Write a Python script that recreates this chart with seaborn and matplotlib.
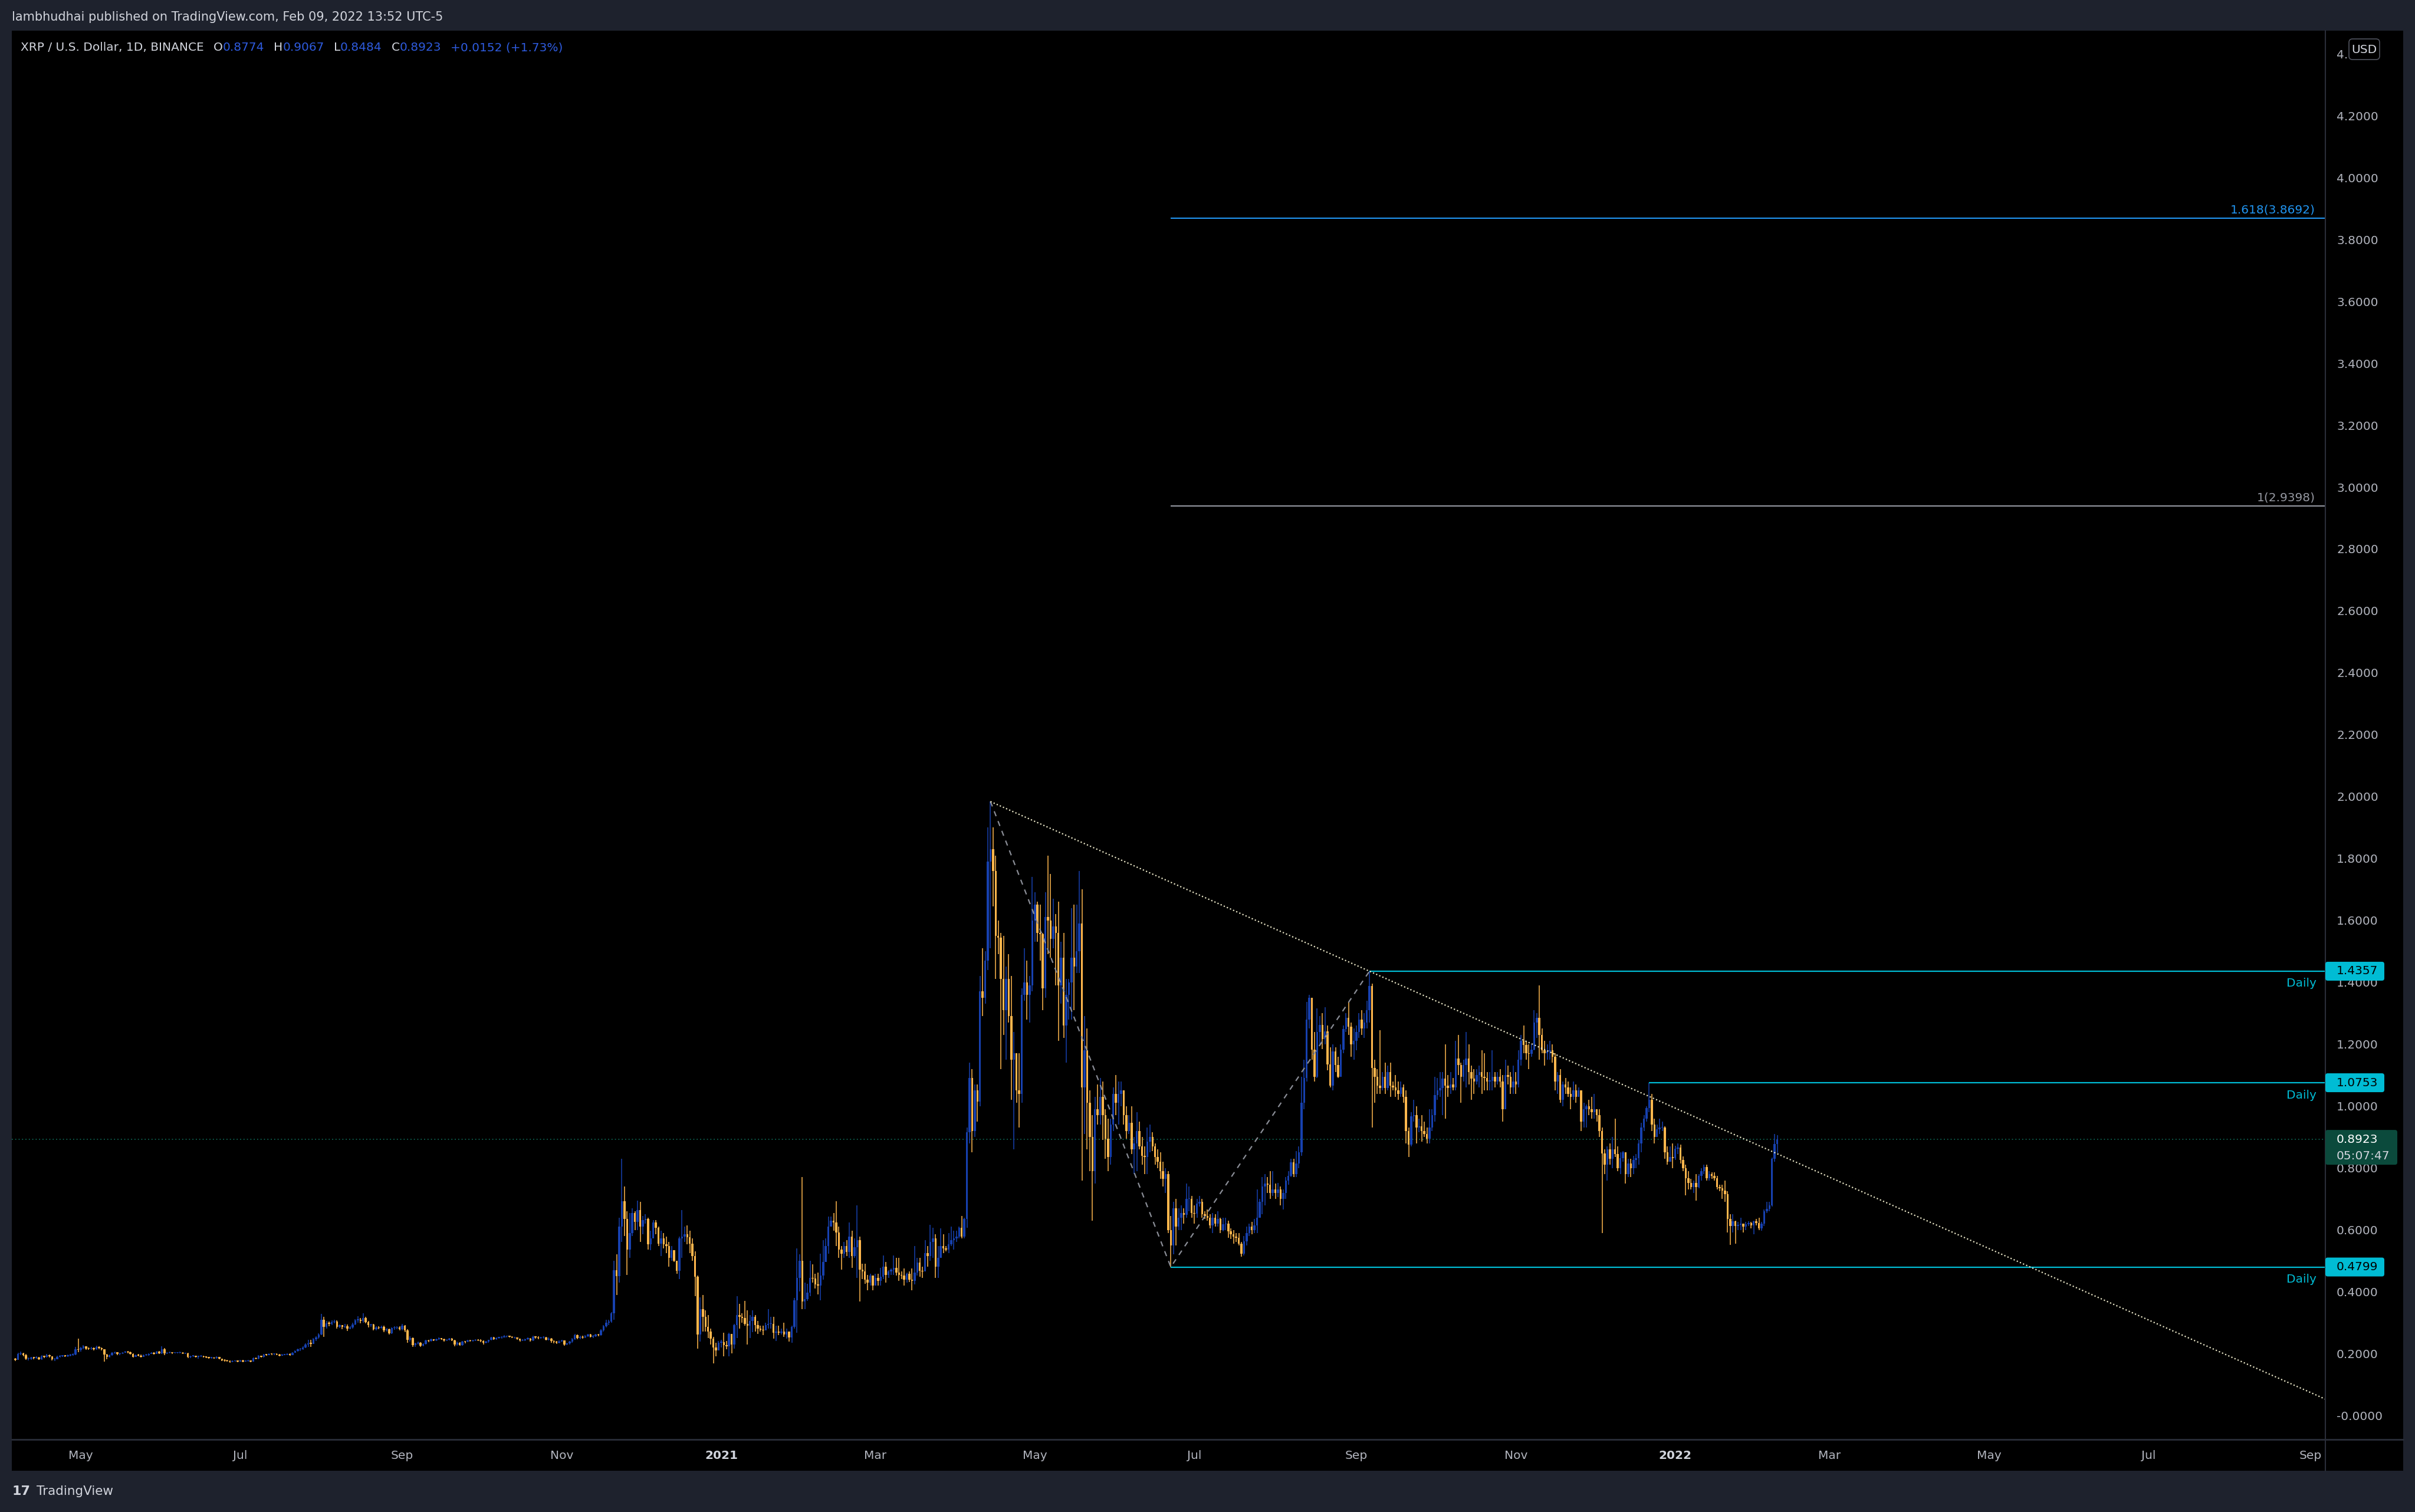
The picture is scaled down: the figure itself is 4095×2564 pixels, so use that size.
import numpy as np
import pandas as pd
import seaborn as sns
import matplotlib
matplotlib.use('Agg')
import matplotlib.pyplot as plt
import matplotlib.dates as mdates
import matplotlib.transforms as mtransforms
from matplotlib.patches import Rectangle, FancyBboxPatch

# ############### Data ###############
first_day = '2020-04-06'
first_open = 0.184

# daily closes, one row per month (Apr 2020 .. Feb 2022)
close = [
    0.180, 0.198, 0.200, 0.196, 0.183, 0.184, 0.187, 0.186, 0.188, 0.182, 0.192, 0.190, 0.196, 0.191, 0.181, 0.182, 0.190, 0.192, 0.193, 0.192, 0.194, 0.196, 0.197, 0.214, 0.212,
    0.218, 0.223, 0.217, 0.216, 0.216, 0.215, 0.222, 0.218, 0.214, 0.197, 0.190, 0.195, 0.203, 0.204, 0.198, 0.201, 0.203, 0.206, 0.204, 0.199, 0.190, 0.195, 0.194, 0.190, 0.195, 0.195, 0.199, 0.202, 0.199, 0.206, 0.201,
    0.215, 0.201, 0.203, 0.203, 0.202, 0.203, 0.203, 0.203, 0.201, 0.201, 0.189, 0.192, 0.192, 0.190, 0.191, 0.192, 0.189, 0.188, 0.186, 0.187, 0.185, 0.189, 0.183, 0.178, 0.177, 0.176, 0.174, 0.176, 0.176, 0.175,
    0.178, 0.175, 0.176, 0.177, 0.175, 0.186, 0.183, 0.193, 0.190, 0.197, 0.196, 0.199, 0.198, 0.198, 0.197, 0.194, 0.196, 0.197, 0.199, 0.196, 0.203, 0.208, 0.214, 0.214, 0.219, 0.229, 0.234, 0.232, 0.247, 0.252, 0.262,
    0.309, 0.287, 0.298, 0.297, 0.302, 0.304, 0.287, 0.292, 0.286, 0.289, 0.280, 0.285, 0.295, 0.308, 0.310, 0.305, 0.315, 0.302, 0.292, 0.294, 0.279, 0.285, 0.283, 0.287, 0.275, 0.278, 0.266, 0.282, 0.283, 0.285, 0.278,
    0.290, 0.276, 0.244, 0.251, 0.228, 0.233, 0.235, 0.226, 0.232, 0.242, 0.241, 0.246, 0.243, 0.247, 0.250, 0.247, 0.242, 0.244, 0.249, 0.243, 0.229, 0.236, 0.228, 0.239, 0.238, 0.242, 0.241, 0.243, 0.245, 0.243,
    0.241, 0.236, 0.238, 0.244, 0.253, 0.247, 0.251, 0.252, 0.253, 0.256, 0.256, 0.255, 0.252, 0.252, 0.248, 0.243, 0.243, 0.247, 0.249, 0.242, 0.254, 0.253, 0.250, 0.252, 0.253, 0.245, 0.249, 0.240, 0.238, 0.236, 0.239,
    0.242, 0.230, 0.233, 0.239, 0.247, 0.260, 0.250, 0.255, 0.252, 0.257, 0.261, 0.255, 0.256, 0.262, 0.260, 0.275, 0.288, 0.300, 0.303, 0.330, 0.470, 0.450, 0.610, 0.693, 0.636, 0.537, 0.590, 0.655, 0.625, 0.664,
    0.610, 0.632, 0.636, 0.553, 0.572, 0.623, 0.607, 0.556, 0.572, 0.553, 0.547, 0.509, 0.534, 0.500, 0.468, 0.572, 0.579, 0.585, 0.576, 0.556, 0.515, 0.449, 0.261, 0.344, 0.318, 0.287, 0.271, 0.249, 0.220, 0.211, 0.236,
    0.237, 0.227, 0.223, 0.264, 0.230, 0.293, 0.325, 0.318, 0.315, 0.296, 0.290, 0.305, 0.318, 0.293, 0.280, 0.277, 0.275, 0.293, 0.296, 0.297, 0.268, 0.272, 0.268, 0.272, 0.261, 0.271, 0.252, 0.287, 0.373, 0.445, 0.500,
    0.369, 0.376, 0.398, 0.445, 0.442, 0.423, 0.420, 0.452, 0.496, 0.547, 0.610, 0.629, 0.623, 0.591, 0.537, 0.522, 0.547, 0.528, 0.579, 0.515, 0.544, 0.566, 0.471, 0.465, 0.439, 0.430, 0.452, 0.420,
    0.445, 0.436, 0.449, 0.480, 0.455, 0.465, 0.471, 0.477, 0.461, 0.455, 0.452, 0.439, 0.458, 0.439, 0.436, 0.461, 0.495, 0.468, 0.465, 0.525, 0.515, 0.560, 0.572, 0.480, 0.509, 0.547, 0.540, 0.537, 0.553, 0.566, 0.572,
    0.579, 0.607, 0.579, 0.636, 0.915, 1.090, 0.920, 1.050, 1.015, 1.370, 1.350, 1.470, 1.790, 1.830, 1.760, 1.550, 1.545, 1.410, 1.310, 1.410, 1.290, 1.150, 1.170, 1.050, 1.040, 1.360, 1.400, 1.360, 1.390, 1.600,
    1.650, 1.560, 1.555, 1.380, 1.610, 1.600, 1.540, 1.580, 1.560, 1.390, 1.480, 1.260, 1.360, 1.400, 1.480, 1.450, 1.500, 1.590, 1.060, 1.180, 1.010, 0.900, 0.790, 0.990, 0.970, 1.030, 0.970, 0.895, 0.835, 0.940, 1.040,
    1.010, 1.040, 1.050, 0.970, 0.920, 0.945, 0.860, 0.880, 0.920, 0.870, 0.840, 0.835, 0.885, 0.900, 0.870, 0.835, 0.820, 0.790, 0.765, 0.780, 0.600, 0.550, 0.670, 0.610, 0.640, 0.655, 0.648, 0.700, 0.700, 0.655,
    0.652, 0.684, 0.690, 0.650, 0.645, 0.640, 0.615, 0.640, 0.620, 0.635, 0.600, 0.618, 0.620, 0.595, 0.585, 0.578, 0.575, 0.555, 0.523, 0.562, 0.590, 0.610, 0.600, 0.615, 0.640, 0.690, 0.740, 0.750, 0.745, 0.720, 0.730,
    0.720, 0.730, 0.700, 0.720, 0.760, 0.775, 0.818, 0.780, 0.815, 0.850, 1.010, 1.090, 1.280, 1.350, 1.183, 1.095, 1.240, 1.263, 1.216, 1.241, 1.135, 1.066, 1.176, 1.132, 1.095, 1.183, 1.249, 1.285, 1.256, 1.200, 1.210,
    1.240, 1.280, 1.250, 1.270, 1.310, 1.387, 1.124, 1.095, 1.066, 1.059, 1.095, 1.059, 1.110, 1.066, 1.060, 1.051, 1.040, 1.060, 1.030, 0.920, 0.876, 0.966, 0.970, 0.930, 0.935, 0.920, 0.910, 0.895, 0.930, 0.970,
    1.036, 1.051, 1.059, 1.088, 1.066, 1.059, 1.070, 1.060, 1.154, 1.132, 1.095, 1.132, 1.154, 1.110, 1.088, 1.080, 1.100, 1.110, 1.095, 1.090, 1.080, 1.081, 1.095, 1.080, 1.095, 1.080, 0.990, 1.100, 1.095, 1.060, 1.080,
    1.070, 1.150, 1.210, 1.197, 1.170, 1.168, 1.183, 1.270, 1.285, 1.230, 1.180, 1.170, 1.176, 1.180, 1.160, 1.080, 1.100, 1.020, 1.070, 1.060, 1.040, 1.030, 1.050, 1.030, 1.050, 0.950, 0.990, 1.000, 0.990, 0.980,
    0.990, 0.970, 0.920, 0.847, 0.810, 0.860, 0.830, 0.860, 0.845, 0.800, 0.832, 0.850, 0.780, 0.815, 0.800, 0.825, 0.832, 0.880, 0.930, 0.960, 0.993, 1.020, 0.940, 0.900, 0.925, 0.930, 0.930, 0.851, 0.820, 0.835, 0.832,
    0.862, 0.866, 0.825, 0.800, 0.767, 0.752, 0.738, 0.752, 0.738, 0.774, 0.790, 0.803, 0.767, 0.781, 0.774, 0.767, 0.738, 0.735, 0.726, 0.716, 0.635, 0.613, 0.627, 0.613, 0.617, 0.620, 0.610, 0.618, 0.621, 0.615, 0.627,
    0.622, 0.605, 0.620, 0.660, 0.668, 0.679, 0.829, 0.8774, 0.8923,
]

high = [
    0.186, 0.202, 0.206, 0.203, 0.198, 0.188, 0.190, 0.190, 0.191, 0.190, 0.195, 0.194, 0.198, 0.197, 0.192, 0.185, 0.193, 0.195, 0.196, 0.195, 0.197, 0.199, 0.200, 0.222, 0.248,
    0.222, 0.227, 0.224, 0.220, 0.221, 0.219, 0.225, 0.224, 0.220, 0.215, 0.199, 0.197, 0.205, 0.207, 0.205, 0.203, 0.205, 0.209, 0.208, 0.206, 0.201, 0.197, 0.198, 0.197, 0.197, 0.198, 0.201, 0.204, 0.204, 0.208, 0.209,
    0.223, 0.218, 0.205, 0.206, 0.205, 0.205, 0.205, 0.207, 0.204, 0.203, 0.202, 0.194, 0.194, 0.193, 0.193, 0.195, 0.193, 0.190, 0.189, 0.189, 0.188, 0.191, 0.190, 0.184, 0.181, 0.179, 0.177, 0.178, 0.178, 0.178,
    0.180, 0.179, 0.178, 0.179, 0.178, 0.188, 0.187, 0.195, 0.194, 0.199, 0.199, 0.201, 0.201, 0.201, 0.200, 0.198, 0.198, 0.199, 0.201, 0.200, 0.205, 0.211, 0.217, 0.218, 0.223, 0.233, 0.244, 0.245, 0.250, 0.256, 0.265,
    0.328, 0.318, 0.305, 0.303, 0.308, 0.310, 0.307, 0.295, 0.293, 0.296, 0.295, 0.288, 0.299, 0.312, 0.320, 0.315, 0.330, 0.318, 0.305, 0.297, 0.296, 0.289, 0.289, 0.290, 0.290, 0.282, 0.281, 0.285, 0.288, 0.289, 0.288,
    0.297, 0.293, 0.279, 0.256, 0.252, 0.236, 0.238, 0.237, 0.234, 0.245, 0.245, 0.248, 0.247, 0.249, 0.253, 0.251, 0.248, 0.246, 0.251, 0.250, 0.245, 0.238, 0.237, 0.240, 0.241, 0.244, 0.244, 0.245, 0.247, 0.246,
    0.246, 0.243, 0.240, 0.245, 0.255, 0.254, 0.253, 0.254, 0.256, 0.259, 0.258, 0.258, 0.256, 0.254, 0.253, 0.249, 0.246, 0.249, 0.252, 0.251, 0.258, 0.257, 0.256, 0.254, 0.256, 0.254, 0.252, 0.251, 0.242, 0.240, 0.242,
    0.245, 0.243, 0.236, 0.241, 0.250, 0.263, 0.262, 0.258, 0.258, 0.260, 0.264, 0.263, 0.259, 0.264, 0.263, 0.279, 0.292, 0.310, 0.310, 0.335, 0.500, 0.520, 0.640, 0.830, 0.740, 0.660, 0.655, 0.670, 0.660, 0.695,
    0.690, 0.645, 0.650, 0.640, 0.598, 0.632, 0.632, 0.610, 0.598, 0.590, 0.578, 0.560, 0.547, 0.520, 0.500, 0.579, 0.664, 0.610, 0.615, 0.598, 0.572, 0.530, 0.452, 0.382, 0.390, 0.340, 0.325, 0.280, 0.255, 0.236, 0.240,
    0.245, 0.268, 0.240, 0.268, 0.264, 0.296, 0.385, 0.360, 0.330, 0.370, 0.340, 0.325, 0.340, 0.325, 0.306, 0.290, 0.290, 0.300, 0.344, 0.318, 0.318, 0.290, 0.290, 0.280, 0.300, 0.280, 0.272, 0.290, 0.380, 0.540, 0.520,
    0.770, 0.430, 0.425, 0.500, 0.488, 0.458, 0.461, 0.522, 0.566, 0.572, 0.642, 0.642, 0.655, 0.693, 0.610, 0.547, 0.560, 0.566, 0.623, 0.598, 0.572, 0.680, 0.579, 0.490, 0.490, 0.455, 0.458, 0.452,
    0.458, 0.458, 0.477, 0.518, 0.496, 0.470, 0.475, 0.518, 0.509, 0.509, 0.465, 0.475, 0.462, 0.465, 0.475, 0.547, 0.509, 0.509, 0.480, 0.566, 0.547, 0.617, 0.607, 0.585, 0.547, 0.604, 0.585, 0.547, 0.590, 0.610, 0.598,
    0.598, 0.610, 0.645, 0.640, 0.930, 1.140, 1.120, 1.070, 1.070, 1.420, 1.510, 1.500, 1.900, 1.984, 1.900, 1.810, 1.600, 1.560, 1.550, 1.450, 1.490, 1.420, 1.240, 1.170, 1.170, 1.380, 1.510, 1.470, 1.420, 1.740,
    1.690, 1.660, 1.650, 1.560, 1.690, 1.810, 1.750, 1.670, 1.620, 1.660, 1.530, 1.560, 1.410, 1.410, 1.640, 1.650, 1.650, 1.760, 1.700, 1.290, 1.250, 1.050, 0.970, 1.030, 1.070, 1.090, 1.080, 0.990, 0.960, 0.960, 1.060,
    1.100, 1.080, 1.080, 1.050, 1.000, 0.970, 1.000, 0.900, 0.980, 0.950, 0.900, 0.870, 0.930, 0.940, 0.915, 0.880, 0.860, 0.850, 0.820, 0.800, 0.790, 0.645, 0.690, 0.700, 0.670, 0.680, 0.670, 0.750, 0.740, 0.710,
    0.680, 0.700, 0.710, 0.700, 0.660, 0.665, 0.650, 0.655, 0.650, 0.660, 0.640, 0.640, 0.640, 0.630, 0.605, 0.600, 0.590, 0.590, 0.560, 0.580, 0.610, 0.620, 0.625, 0.635, 0.730, 0.700, 0.770, 0.780, 0.770, 0.790, 0.790,
    0.750, 0.752, 0.740, 0.730, 0.770, 0.790, 0.830, 0.830, 0.855, 0.870, 1.095, 1.150, 1.336, 1.360, 1.336, 1.240, 1.315, 1.290, 1.300, 1.320, 1.260, 1.190, 1.200, 1.190, 1.160, 1.200, 1.260, 1.300, 1.336, 1.270, 1.250,
    1.260, 1.300, 1.310, 1.300, 1.340, 1.4357, 1.395, 1.150, 1.120, 1.245, 1.110, 1.140, 1.130, 1.140, 1.080, 1.100, 1.080, 1.080, 1.070, 1.050, 0.930, 0.980, 1.020, 1.000, 0.960, 0.970, 0.950, 0.930, 0.990, 0.990,
    1.095, 1.090, 1.110, 1.110, 1.200, 1.100, 1.110, 1.090, 1.210, 1.230, 1.140, 1.150, 1.240, 1.200, 1.130, 1.120, 1.120, 1.130, 1.180, 1.170, 1.110, 1.110, 1.180, 1.110, 1.110, 1.120, 1.100, 1.150, 1.130, 1.110, 1.130,
    1.110, 1.180, 1.230, 1.260, 1.210, 1.200, 1.200, 1.310, 1.300, 1.390, 1.250, 1.210, 1.200, 1.210, 1.200, 1.170, 1.110, 1.120, 1.080, 1.090, 1.080, 1.060, 1.080, 1.070, 1.060, 1.050, 1.010, 1.005, 1.020, 1.030,
    1.040, 0.990, 0.990, 0.930, 0.860, 0.870, 0.880, 0.900, 0.960, 0.870, 0.850, 0.855, 0.850, 0.830, 0.830, 0.840, 0.845, 0.890, 0.945, 0.970, 1.000, 1.0753, 1.040, 0.960, 0.940, 0.960, 0.950, 0.935, 0.870, 0.870, 0.880,
    0.872, 0.880, 0.875, 0.838, 0.810, 0.790, 0.765, 0.760, 0.780, 0.781, 0.800, 0.810, 0.810, 0.790, 0.785, 0.785, 0.775, 0.745, 0.745, 0.760, 0.725, 0.650, 0.650, 0.630, 0.625, 0.640, 0.620, 0.625, 0.628, 0.625, 0.630,
    0.635, 0.640, 0.625, 0.665, 0.690, 0.690, 0.834, 0.910, 0.9067,
]

low = [
    0.176, 0.179, 0.195, 0.192, 0.179, 0.178, 0.180, 0.182, 0.183, 0.179, 0.180, 0.186, 0.188, 0.188, 0.178, 0.176, 0.181, 0.187, 0.189, 0.189, 0.190, 0.192, 0.194, 0.195, 0.205,
    0.206, 0.214, 0.212, 0.212, 0.212, 0.211, 0.212, 0.215, 0.211, 0.175, 0.181, 0.188, 0.193, 0.198, 0.196, 0.196, 0.199, 0.202, 0.201, 0.197, 0.188, 0.189, 0.191, 0.188, 0.189, 0.193, 0.194, 0.198, 0.197, 0.198, 0.198,
    0.199, 0.196, 0.199, 0.200, 0.199, 0.200, 0.200, 0.201, 0.199, 0.198, 0.186, 0.185, 0.189, 0.187, 0.184, 0.189, 0.187, 0.186, 0.184, 0.184, 0.183, 0.184, 0.182, 0.176, 0.175, 0.174, 0.170, 0.172, 0.174, 0.173,
    0.174, 0.173, 0.174, 0.175, 0.173, 0.174, 0.181, 0.182, 0.187, 0.188, 0.194, 0.195, 0.196, 0.195, 0.195, 0.191, 0.193, 0.195, 0.196, 0.194, 0.195, 0.202, 0.206, 0.208, 0.212, 0.218, 0.222, 0.222, 0.231, 0.240, 0.248,
    0.260, 0.255, 0.280, 0.288, 0.292, 0.298, 0.280, 0.282, 0.279, 0.282, 0.274, 0.278, 0.281, 0.292, 0.300, 0.298, 0.300, 0.298, 0.285, 0.287, 0.275, 0.275, 0.279, 0.281, 0.270, 0.272, 0.262, 0.264, 0.277, 0.279, 0.276,
    0.275, 0.270, 0.235, 0.238, 0.222, 0.222, 0.229, 0.222, 0.224, 0.230, 0.237, 0.239, 0.240, 0.241, 0.245, 0.244, 0.238, 0.240, 0.242, 0.241, 0.224, 0.226, 0.225, 0.226, 0.234, 0.237, 0.239, 0.239, 0.241, 0.240,
    0.237, 0.230, 0.234, 0.236, 0.243, 0.244, 0.245, 0.248, 0.249, 0.252, 0.253, 0.252, 0.250, 0.249, 0.245, 0.239, 0.240, 0.241, 0.245, 0.239, 0.240, 0.249, 0.246, 0.248, 0.249, 0.243, 0.242, 0.236, 0.234, 0.231, 0.233,
    0.238, 0.226, 0.228, 0.230, 0.236, 0.245, 0.247, 0.247, 0.249, 0.250, 0.254, 0.252, 0.251, 0.254, 0.256, 0.258, 0.272, 0.284, 0.293, 0.300, 0.310, 0.390, 0.430, 0.560, 0.580, 0.455, 0.510, 0.580, 0.600, 0.600,
    0.560, 0.585, 0.620, 0.537, 0.534, 0.585, 0.585, 0.547, 0.515, 0.540, 0.525, 0.480, 0.500, 0.496, 0.458, 0.440, 0.509, 0.560, 0.553, 0.525, 0.500, 0.385, 0.217, 0.239, 0.271, 0.271, 0.250, 0.230, 0.169, 0.192, 0.210,
    0.220, 0.192, 0.215, 0.192, 0.200, 0.217, 0.250, 0.280, 0.300, 0.290, 0.230, 0.250, 0.270, 0.271, 0.264, 0.271, 0.260, 0.275, 0.280, 0.280, 0.249, 0.240, 0.260, 0.262, 0.255, 0.249, 0.239, 0.236, 0.280, 0.268, 0.400,
    0.344, 0.344, 0.370, 0.385, 0.430, 0.410, 0.391, 0.373, 0.439, 0.505, 0.522, 0.615, 0.598, 0.547, 0.509, 0.471, 0.510, 0.515, 0.509, 0.477, 0.509, 0.445, 0.369, 0.440, 0.425, 0.405, 0.420, 0.405,
    0.425, 0.420, 0.420, 0.440, 0.430, 0.445, 0.455, 0.455, 0.452, 0.436, 0.440, 0.420, 0.430, 0.432, 0.404, 0.423, 0.452, 0.449, 0.445, 0.465, 0.480, 0.500, 0.509, 0.445, 0.445, 0.509, 0.525, 0.530, 0.525, 0.548, 0.537,
    0.560, 0.572, 0.572, 0.572, 0.607, 0.880, 0.850, 0.900, 0.950, 1.000, 1.290, 1.330, 1.440, 1.510, 1.645, 1.410, 1.490, 1.120, 1.230, 1.150, 1.270, 1.020, 0.860, 1.010, 0.930, 1.010, 1.340, 1.280, 1.270, 1.370,
    1.530, 1.530, 1.470, 1.310, 1.350, 1.490, 1.480, 1.510, 1.390, 1.210, 1.330, 1.220, 1.140, 1.280, 1.280, 1.310, 1.430, 1.430, 0.760, 0.910, 0.860, 0.790, 0.630, 0.750, 0.940, 0.940, 0.890, 0.830, 0.790, 0.810, 0.920,
    0.970, 0.940, 1.000, 0.940, 0.895, 0.910, 0.845, 0.780, 0.790, 0.860, 0.810, 0.780, 0.780, 0.850, 0.855, 0.810, 0.800, 0.765, 0.740, 0.720, 0.590, 0.4799, 0.520, 0.550, 0.600, 0.600, 0.620, 0.640, 0.660, 0.640,
    0.620, 0.640, 0.675, 0.640, 0.635, 0.630, 0.605, 0.590, 0.610, 0.610, 0.590, 0.595, 0.600, 0.575, 0.570, 0.556, 0.560, 0.550, 0.513, 0.518, 0.550, 0.580, 0.585, 0.590, 0.590, 0.640, 0.650, 0.680, 0.720, 0.700, 0.710,
    0.700, 0.705, 0.680, 0.665, 0.700, 0.745, 0.770, 0.770, 0.770, 0.800, 0.840, 0.990, 1.080, 1.250, 1.150, 1.080, 1.090, 1.200, 1.185, 1.200, 1.115, 1.060, 1.050, 1.110, 1.090, 1.100, 1.170, 1.240, 1.230, 1.160, 1.150,
    1.180, 1.220, 1.230, 1.220, 1.250, 1.270, 0.930, 1.010, 1.040, 1.040, 1.050, 1.040, 1.050, 1.030, 1.050, 1.030, 1.020, 1.030, 1.010, 0.880, 0.836, 0.870, 0.950, 0.880, 0.915, 0.885, 0.900, 0.880, 0.880, 0.920,
    0.950, 1.020, 1.030, 0.970, 0.960, 1.030, 1.040, 1.050, 1.050, 1.100, 1.010, 1.080, 1.060, 1.070, 1.020, 1.040, 1.070, 1.060, 1.040, 1.050, 1.050, 1.050, 1.050, 1.060, 1.070, 1.060, 0.950, 0.990, 1.070, 1.040, 1.040,
    1.040, 1.060, 1.130, 1.170, 1.150, 1.120, 1.160, 1.180, 1.220, 1.150, 1.170, 1.130, 1.150, 1.150, 1.140, 1.050, 1.040, 1.010, 1.000, 1.040, 1.030, 0.990, 1.020, 1.010, 1.030, 0.920, 0.930, 0.930, 0.970, 0.960,
    0.960, 0.950, 0.900, 0.590, 0.780, 0.760, 0.810, 0.800, 0.835, 0.790, 0.780, 0.820, 0.750, 0.770, 0.770, 0.780, 0.800, 0.810, 0.850, 0.920, 0.950, 0.980, 0.920, 0.880, 0.900, 0.910, 0.920, 0.830, 0.810, 0.820, 0.800,
    0.825, 0.845, 0.815, 0.790, 0.712, 0.730, 0.730, 0.720, 0.694, 0.735, 0.760, 0.780, 0.760, 0.760, 0.765, 0.760, 0.730, 0.725, 0.700, 0.690, 0.592, 0.551, 0.592, 0.555, 0.600, 0.600, 0.592, 0.600, 0.612, 0.605, 0.585,
    0.615, 0.600, 0.598, 0.612, 0.655, 0.660, 0.675, 0.820, 0.8484,
]

# drawings on the chart
peak_day, peak_price = '2021-04-14', 1.9840
low_day, low_price = '2021-06-22', 0.4799
swing_day, swing_price = '2021-09-06', 1.4357
fib_ratios = ['1', '1.618']
fib_prices = [2.9398, 3.8692]
ray_days = ['2021-09-06', '2021-12-22', '2021-06-22']
ray_prices = [1.4357, 1.0753, 0.4799]
last_price = 0.8923
countdown = '05:07:47'

price_ticks = [0.0, 0.2, 0.4, 0.6, 0.8, 1.0, 1.2, 1.4, 1.6, 1.8, 2.0, 2.2,
               2.4, 2.6, 2.8, 3.0, 3.2, 3.4, 3.6, 3.8, 4.0, 4.2, 4.4]
month_ticks = ['2020-05-01', '2020-07-01', '2020-09-01', '2020-11-01', '2021-01-01',
               '2021-03-01', '2021-05-01', '2021-07-01', '2021-09-01', '2021-11-01',
               '2022-01-01', '2022-03-01', '2022-05-01', '2022-07-01', '2022-09-01']
month_labels = ['May', 'Jul', 'Sep', 'Nov', '2021', 'Mar', 'May', 'Jul', 'Sep', 'Nov',
                '2022', 'Mar', 'May', 'Jul', 'Sep']

header = 'lambhudhai published on TradingView.com, Feb 09, 2022 13:52 UTC-5'
legend_parts = [('XRP / U.S. Dollar, 1D, BINANCE', 'g', 16), ('O', 'g', 0), ('0.8774', 'b', 16),
                ('H', 'g', 0), ('0.9067', 'b', 16), ('L', 'g', 0), ('0.8484', 'b', 16),
                ('C', 'g', 0), ('0.8923', 'b', 16), ('+0.0152 (+1.73%)', 'b', 0)]

# ############### Style ###############
W, H, DPI = 4095, 2564, 100
FRAME = '#1e222d'
TXT = '#b2b5be'
LIGHT = '#d1d4dc'
UP = '#1741b0'
DOWN = '#ffb74d'
CYAN = '#00bcd4'
FIB_BLUE = '#2196f3'
GRAY = '#9598a1'
SEP = '#2a2e39'
FS = 14.5

sns.set_theme(style='dark')
plt.rcParams['font.family'] = ['DejaVu Sans']

o = np.array([first_open] + close[:-1])
c = np.array(close)
h = np.array(high)
l = np.array(low)
assert len(c) == len(h) == len(l)
dates = pd.date_range(first_day, periods=len(c), freq='D')
assert dates[-1] == pd.Timestamp('2022-02-09'), dates[-1]
xs = mdates.date2num(dates)

fig = plt.figure(figsize=(W / DPI, H / DPI), dpi=DPI, facecolor=FRAME)


def fx(px):
    return px / W


def fy(py):
    return 1 - py / H


pane_l, pane_r, pane_t, pane_b = 20, 3943, 52, 2441
axis_r, axis_b = 4075, 2494
ax = fig.add_axes([fx(pane_l), fy(pane_b), fx(pane_r - pane_l), (pane_b - pane_t) / H])
ax.set_facecolor('black')
for s in ax.spines.values():
    s.set_visible(False)

# black price scale / time scale areas and separators
fig.patches.append(Rectangle((fx(pane_r), fy(pane_b)), fx(axis_r - pane_r), (pane_b - pane_t) / H,
                             transform=fig.transFigure, fc='black', ec='none', zorder=-2))
fig.patches.append(Rectangle((fx(pane_l), fy(axis_b)), fx(axis_r - pane_l), (axis_b - pane_b) / H,
                             transform=fig.transFigure, fc='black', ec='none', zorder=-2))
fig.lines.append(plt.Line2D([fx(pane_r), fx(pane_r)], [fy(pane_t), fy(axis_b)], transform=fig.transFigure,
                            color=SEP, lw=1.5, zorder=0.5))
fig.lines.append(plt.Line2D([fx(pane_l), fx(axis_r)], [fy(pane_b), fy(pane_b)], transform=fig.transFigure,
                            color=SEP, lw=2, zorder=0.5))

base = mdates.date2num(pd.Timestamp('2021-01-01'))
x0, x1 = base - 271.4, base + 613.7
y0, y1 = -0.0774, 4.4749

# ############### Candles ###############
up = c >= o
body = np.maximum(np.abs(c - o), 0.0025)
bottom = np.minimum(o, c)
for mask, col in [(up, UP), (~up, DOWN)]:
    ax.vlines(xs[mask], np.minimum(l[mask], bottom[mask]), np.maximum(h[mask], bottom[mask] + body[mask]),
              color=col, lw=1.1, zorder=3)
    ax.bar(xs[mask], body[mask], bottom=bottom[mask], width=0.78, color=col, linewidth=0, zorder=3)

# ############### Drawings ###############
xa = mdates.date2num(pd.Timestamp(peak_day))
xb = mdates.date2num(pd.Timestamp(low_day))
xc = mdates.date2num(pd.Timestamp(swing_day))

# current price line
ax.axhline(last_price, color='#0e6351', lw=1.3, ls=(0, (1, 2.2)), zorder=2)

# trend-based fib extension path
sns.lineplot(x=[xa, xb, xc], y=[peak_price, low_price, swing_price], sort=False, ax=ax,
             color='#8a8d96', lw=1.6, linestyle=(0, (4, 4)), zorder=4)
for ratio, p, col in zip(fib_ratios, fib_prices, [GRAY, FIB_BLUE]):
    ax.hlines(p, xb, x1, color=col, lw=1.5, zorder=4)

# descending trendline through the two highs, extended to the right edge
slope = (swing_price - peak_price) / (xc - xa)
sns.lineplot(x=[xa, x1], y=[peak_price, peak_price + slope * (x1 - xa)], ax=ax,
             color='#e8e5c6', lw=1.6, linestyle=(0, (1, 1.6)), zorder=5)

# horizontal rays
for d, p in zip(ray_days, ray_prices):
    ax.hlines(p, mdates.date2num(pd.Timestamp(d)), x1, color=CYAN, lw=1.6, zorder=4)

ax.set_xlim(x0, x1)
ax.set_ylim(y0, y1)

# ############### Axes ticks ###############
ax.yaxis.tick_right()
ax.set_yticks(price_ticks)
# the top label is mostly hidden behind the USD badge: only "4." shows
ytl = ['-0.0000' if v == 0 else f'{v:.4f}' for v in price_ticks]
ytl[-1] = '4.'
ax.set_yticklabels(ytl)
ax.set_xticks(mdates.date2num(pd.to_datetime(month_ticks)))
ax.set_xticklabels(month_labels)
ax.tick_params(axis='y', length=0, pad=13.7, labelsize=FS, labelcolor=TXT)
ax.tick_params(axis='x', length=0, pad=13, labelsize=FS, labelcolor=TXT)
for t in ax.get_xticklabels():
    if t.get_text().isdigit():
        t.set_fontweight('bold')
        t.set_color(LIGHT)
ax.grid(False)
ax.set_xlabel('')
ax.set_ylabel('')


def py_of(price):
    # pixel row (from top) of a price on the chart
    return H - ax.transData.transform((x0, price))[1]


# ############### Labels on the chart ###############
for ratio, p, col in zip(fib_ratios, fib_prices, [GRAY, FIB_BLUE]):
    fig.text(fx(3926), fy(py_of(p) - 4), f'{ratio}({p:.4f})', color=col, fontsize=FS,
             ha='right', va='bottom')

for p in ray_prices:
    yy = py_of(p)
    fig.text(fx(3928), fy(yy + 21), 'Daily', color=CYAN, fontsize=FS, ha='right', va='center')
    fig.patches.append(FancyBboxPatch((pane_r, H - yy - 16), 100, 32, boxstyle='round,pad=0,rounding_size=4',
                                      transform=mtransforms.IdentityTransform(), fc=CYAN, ec='none', zorder=2))
    fig.text(fx(3962), fy(yy), f'{p:.4f}', color='black', fontsize=FS, ha='left', va='center', zorder=4)

yy = py_of(last_price)
fig.patches.append(FancyBboxPatch((pane_r, H - yy - 43), 122, 59, boxstyle='round,pad=0,rounding_size=4',
                                  transform=mtransforms.IdentityTransform(), fc='#0b4a3c', ec='none', zorder=2))
fig.text(fx(3962), fy(yy), f'{last_price:.4f}', color='white', fontsize=FS, ha='left', va='center', zorder=4)
fig.text(fx(3962), fy(yy + 28), countdown, color=LIGHT, fontsize=FS, ha='left', va='center', zorder=4)

# USD badge
fig.patches.append(FancyBboxPatch((3983, H - 101), 52, 35, boxstyle='round,pad=0,rounding_size=6',
                                  transform=mtransforms.IdentityTransform(), fc='black', ec='#50535e',
                                  lw=1.2, zorder=2))
fig.text(fx(4009), fy(84), 'USD', color=LIGHT, fontsize=FS, ha='center', va='center', zorder=4)

# header and legend
fig.text(fx(20), fy(29), header, color=LIGHT, fontsize=15, ha='left', va='center')
renderer = fig.canvas.get_renderer()
xpos = 35
for txt, kind, gap in legend_parts:
    t = fig.text(fx(xpos), fy(81), txt, color=LIGHT if kind == 'g' else '#2e5bde', fontsize=FS,
                 ha='left', va='center')
    xpos = t.get_window_extent(renderer).x1 + gap

# footer logo
fig.text(fx(20), fy(2529), '17', color=LIGHT, fontsize=16, fontweight='heavy', ha='left', va='center')
fig.text(fx(62), fy(2529), 'TradingView', color=LIGHT, fontsize=15.5, ha='left', va='center')

fig.savefig('out.png', dpi=DPI, facecolor=FRAME)
